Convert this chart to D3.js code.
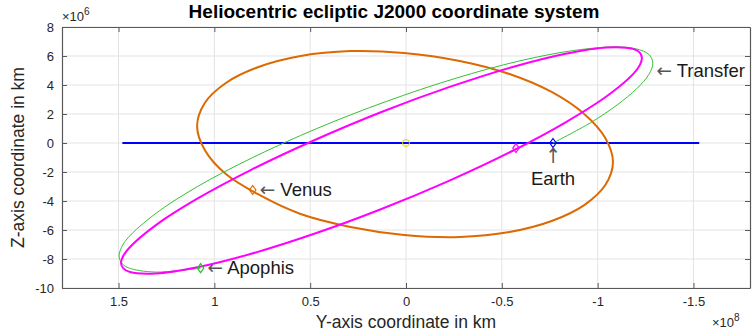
<!DOCTYPE html>
<html>
<head>
<meta charset="utf-8">
<script src="https://cdn.jsdelivr.net/npm/d3@7"></script>
<style>
  body { margin: 0; background: #fff; }
  text { font-family: "Liberation Sans", Arial, Helvetica, sans-serif; }
</style>
</head>
<body>
<div id="chart"></div>
<script>
// Y in 1e8 km, Z in 1e6 km
const xTicks = [1.5, 1, 0.5, 0, -0.5, -1, -1.5];
const yTicks = [-10, -8, -6, -4, -2, 0, 2, 4, 6, 8];

const earthOrbit = [[1.48, 0], [-1.53, 0]];

const venusOrbit = [
  [-1.08, -1.31], [-1.04, -2.90], [-0.93, -4.28], [-0.76, -5.38], [-0.54, -6.14], [-0.28, -6.48],
  [0.01, -6.34], [0.29, -5.79], [0.55, -4.90], [0.77, -3.55], [0.94, -2.14], [1.05, -0.48],
  [1.09, 1.17], [1.05, 2.76], [0.94, 4.14], [0.77, 5.24], [0.55, 6.00], [0.29, 6.34],
  [0.01, 6.21], [-0.28, 5.66], [-0.54, 4.76], [-0.76, 3.52], [-0.93, 2.00], [-1.04, 0.34]
];

const apophisOrbit = [
  [-1.231, 5.86], [-1.220, 5.37], [-1.185, 4.75], [-1.049, 3.24], [-0.833, 1.43], [-0.552, -0.57],
  [-0.224, -2.61], [0.128, -4.55], [0.479, -6.26], [0.808, -7.64], [1.089, -8.57], [1.305, -9.00],
  [1.440, -8.90], [1.475, -8.65], [1.487, -8.28], [1.475, -7.78], [1.440, -7.17], [1.305, -5.66],
  [1.089, -3.84], [0.808, -1.85], [0.479, 0.19], [0.128, 2.14], [-0.224, 3.85], [-0.552, 5.23],
  [-0.833, 6.16], [-1.049, 6.59], [-1.185, 6.49], [-1.220, 6.23]
];

const transferArc = [
  [-0.767, 0], [-0.962, 1.39], [-1.102, 2.63], [-1.204, 3.75], [-1.267, 4.72], [-1.288, 5.52],
  [-1.267, 6.11], [-1.204, 6.48], [-1.102, 6.63], [-0.881, 6.39], [-0.592, 5.66], [-0.256, 4.45],
  [0.104, 2.86], [0.465, 1.00], [0.801, -1.01], [1.089, -3.01], [1.310, -4.90], [1.450, -6.53],
  [1.485, -7.21], [1.497, -7.79], [1.485, -8.26], [1.450, -8.60], [1.310, -8.90], [1.072, -8.63]
];

const sun = [0, 0];
const markers = [
  { name: "Venus", pos: [0.80, -3.24], color: "#dc6a00" },
  { name: "Apophis now", pos: [-0.574, -0.35], color: "#ff00ff" },
  { name: "Apophis", pos: [1.072, -8.63], color: "#33c133" },
  { name: "Earth", pos: [-0.767, 0], color: "#0000ff" }
];
const labels = [
  { text: "Venus", pos: [0.80, -3.24] },
  { text: "Apophis", pos: [1.072, -8.63] },
  { text: "Transfer", pos: [-1.27, 4.95] }
];

const W = 752, H = 332;
const mLeft = 62, mRight = 750, mTop = 27, mBottom = 288;

const svg = d3.select("#chart").append("svg")
  .attr("width", W).attr("height", H);

const x = d3.scaleLinear().domain([1.795, -1.795]).range([mLeft, mRight]);
const y = d3.scaleLinear().domain([-10, 8]).range([mBottom, mTop]);

// grid
svg.append("g").selectAll("line").data(xTicks).join("line")
  .attr("x1", d => x(d)).attr("x2", d => x(d))
  .attr("y1", mTop).attr("y2", mBottom)
  .attr("stroke", "#e3e3e3").attr("stroke-width", 1);
svg.append("g").selectAll("line").data(yTicks).join("line")
  .attr("x1", mLeft).attr("x2", mRight)
  .attr("y1", d => y(d)).attr("y2", d => y(d))
  .attr("stroke", "#e3e3e3").attr("stroke-width", 1);

const line = d3.line().x(d => x(d[0])).y(d => y(d[1]));

// Earth orbit
svg.append("path").datum(earthOrbit)
  .attr("d", line).attr("fill", "none")
  .attr("stroke", "#0000ff").attr("stroke-width", 2);

// Venus orbit
svg.append("path").datum(venusOrbit)
  .attr("d", line.curve(d3.curveCatmullRomClosed)).attr("fill", "none")
  .attr("stroke", "#dc6a00").attr("stroke-width", 2);

// transfer orbit
svg.append("path").datum(transferArc)
  .attr("d", line.curve(d3.curveCatmullRom)).attr("fill", "none")
  .attr("stroke", "#33c133").attr("stroke-width", 1);

// Apophis orbit
svg.append("path").datum(apophisOrbit)
  .attr("d", line.curve(d3.curveCatmullRomClosed)).attr("fill", "none")
  .attr("stroke", "#ff00ff").attr("stroke-width", 2);

// Sun
svg.append("circle")
  .attr("cx", x(sun[0])).attr("cy", y(sun[1])).attr("r", 3.5)
  .attr("fill", "none").attr("stroke", "#e0d200").attr("stroke-width", 1);

// diamonds
svg.append("g").selectAll("path").data(markers).join("path")
  .attr("transform", d => `translate(${x(d.pos[0])},${y(d.pos[1])})`)
  .attr("d", "M0,-4.5L3.2,0L0,4.5L-3.2,0Z")
  .attr("fill", "none").attr("stroke", d => d.color).attr("stroke-width", 1.2);

// axes box
const axisColor = "#595959";
const gx = svg.append("g").attr("transform", `translate(0,${mBottom})`)
  .call(d3.axisBottom(x).tickValues(xTicks).tickSize(-5).tickSizeOuter(0)
    .tickPadding(9).tickFormat(d => String(d)));
const gy = svg.append("g").attr("transform", `translate(${mLeft},0)`)
  .call(d3.axisLeft(y).tickValues(yTicks).tickSize(-5).tickSizeOuter(0)
    .tickPadding(8).tickFormat(d => String(d)));
const gt = svg.append("g").attr("transform", `translate(0,${mTop})`)
  .call(d3.axisTop(x).tickValues(xTicks).tickSize(-5).tickSizeOuter(0).tickFormat(""));
const gr = svg.append("g").attr("transform", `translate(${mRight},0)`)
  .call(d3.axisRight(y).tickValues(yTicks).tickSize(-5).tickSizeOuter(0).tickFormat(""));

[gx, gy, gt, gr].forEach(g => {
  g.select(".domain").attr("stroke", axisColor).attr("stroke-width", 1.2);
  g.selectAll(".tick line").attr("stroke", axisColor).attr("stroke-width", 1);
  g.selectAll(".tick text").attr("fill", "#262626")
    .style("font-family", '"Liberation Sans", Arial, sans-serif').style("font-size", "13px");
});

// exponent labels
const exp6 = svg.append("text").attr("x", mLeft).attr("y", 21)
  .attr("fill", "#262626").style("font-size", "13px");
exp6.append("tspan").text("×10");
exp6.append("tspan").attr("dy", -6).style("font-size", "10px").text("6");

const exp8 = svg.append("text").attr("x", 712).attr("y", 327)
  .attr("fill", "#262626").style("font-size", "13px");
exp8.append("tspan").text("×10");
exp8.append("tspan").attr("dy", -6).style("font-size", "10px").text("8");

// title and axis labels
svg.append("text").attr("x", 394).attr("y", 18)
  .attr("text-anchor", "middle").attr("font-weight", "bold")
  .style("font-size", "19px").attr("fill", "#000")
  .text("Heliocentric ecliptic J2000 coordinate system");

svg.append("text").attr("x", 406).attr("y", 328)
  .attr("text-anchor", "middle").style("font-size", "17.5px").attr("fill", "#262626")
  .text("Y-axis coordinate in km");

svg.append("text").attr("transform", `translate(24,${(mTop + mBottom) / 2}) rotate(-90)`)
  .attr("text-anchor", "middle").style("font-size", "17.5px").attr("fill", "#262626")
  .text("Z-axis coordinate in km");

// annotations: arrow glyph + label in one text
labels.forEach(l => {
  const px = x(l.pos[0]), py = y(l.pos[1]);
  const t = svg.append("text")
    .attr("x", px + 7).attr("y", py + 6)
    .style("font-size", "18.5px").attr("fill", "#1a1a1a");
  t.append("tspan").style("font-family", '"DejaVu Sans", sans-serif')
    .attr("fill", "#555").text("←");
  t.append("tspan").text(" " + l.text);
});

const earth = markers.find(m => m.name === "Earth");
svg.append("text")
  .attr("transform", `translate(${x(earth.pos[0])},${y(earth.pos[1]) + 20}) scale(1,1.15)`)
  .attr("text-anchor", "middle").style("font-size", "18px")
  .style("font-family", '"DejaVu Sans", sans-serif').attr("fill", "#555")
  .text("↑");
svg.append("text").attr("x", x(earth.pos[0])).attr("y", y(earth.pos[1]) + 42)
  .attr("text-anchor", "middle").style("font-size", "18.5px").attr("fill", "#1a1a1a")
  .text("Earth");
</script>
</body>
</html>
